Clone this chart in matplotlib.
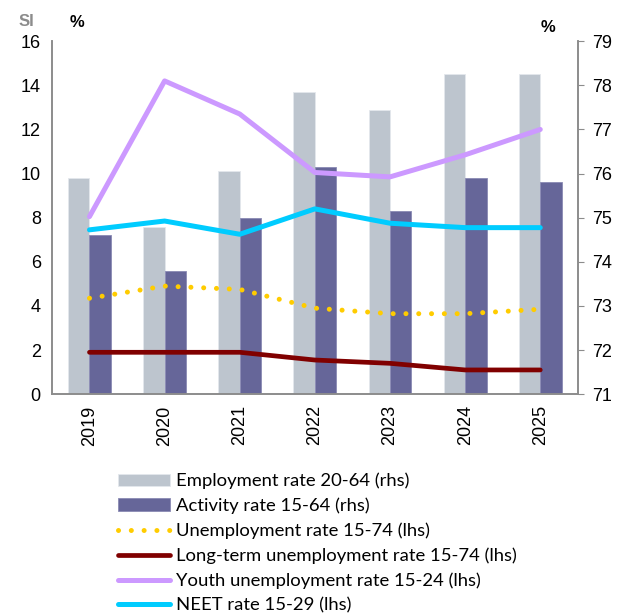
import numpy as np
import matplotlib.pyplot as plt

years = ["2019", "2020", "2021", "2022", "2023", "2024", "2025"]

# rhs series (bars)
employment_20_64 = [75.9, 74.8, 76.05, 77.85, 77.45, 78.25, 78.25]
activity_15_64 = [74.6, 73.8, 75.0, 76.15, 75.15, 75.9, 75.8]

# lhs series (lines)
unemployment_15_74 = [4.35, 4.9, 4.75, 3.9, 3.65, 3.65, 3.85]
long_term_15_74 = [1.9, 1.9, 1.9, 1.55, 1.4, 1.1, 1.1]
youth_15_24 = [8.05, 14.2, 12.7, 10.05, 9.85, 10.85, 12.0]
neet_15_29 = [7.45, 7.85, 7.25, 8.4, 7.75, 7.55, 7.55]

labels = ["Employment rate 20-64 (rhs)", "Activity rate 15-64 (rhs)",
          "Unemployment rate 15-74 (lhs)", "Long-term unemployment rate 15-74 (lhs)",
          "Youth unemployment rate 15-24 (lhs)", "NEET rate 15-29 (lhs)"]

plt.rcParams['font.family'] = ['Liberation Sans', 'DejaVu Sans']

fig = plt.figure(figsize=(6.18, 6.15), dpi=100)
ax = fig.add_axes([0.084, 0.359, 0.851, 0.574])
ax2 = ax.twinx()

x = np.arange(len(years))
w = 0.285
b1 = ax2.bar(x - w / 2, employment_20_64, w, color="#BDC5CE", edgecolor="#E4E8EC", linewidth=0.6)
b2 = ax2.bar(x + w / 2, activity_15_64, w, color="#666699", edgecolor="#8A8AB4", linewidth=0.6)
ax2.set_ylim(71, 79)

l1, = ax.plot(x, unemployment_15_74, color="#FFCC00", lw=3.6, linestyle=(0, (0.01, 2.55)),
              dash_capstyle="round")
l2, = ax.plot(x, long_term_15_74, color="#800000", lw=3.4, solid_capstyle="round")
l3, = ax.plot(x, youth_15_24, color="#CC99FF", lw=3.6, solid_capstyle="round")
l4, = ax.plot(x, neet_15_29, color="#00CCFF", lw=3.6, solid_capstyle="round")

ax.set_zorder(ax2.get_zorder() + 1)
ax.patch.set_visible(False)
ax.set_ylim(0, 16)
ax.set_xlim(-0.5, 6.5)
ax.set_yticks(range(0, 17, 2))
ax.set_xticks(x)
ax.set_xticklabels(years, rotation=90)
ax2.set_yticks(range(71, 80))

for a in (ax, ax2):
    a.spines["top"].set_visible(False)
    for s in ("left", "right", "bottom"):
        a.spines[s].set_color("#8C8C8C")
        a.spines[s].set_linewidth(1.2)
ax.tick_params(axis="y", length=0, labelsize=13, pad=8)
ax.tick_params(axis="x", length=0, labelsize=13, pad=8)
ax2.tick_params(axis="y", length=4, color="#8C8C8C", labelsize=13, pad=6)

fig.text(0.03, 0.965, "SI", fontsize=12, fontweight="bold", color="#8C8C8C", ha="left", va="center")
fig.text(0.113, 0.963, "%", fontsize=12, fontweight="bold", ha="left", va="center")
fig.text(0.875, 0.955, "%", fontsize=12, fontweight="bold", ha="left", va="center")

fig.legend([b1, b2, l1, l2, l3, l4], labels, loc="upper left", bbox_to_anchor=(0.191, 0.231),
           frameon=False, handlelength=2.8, handletextpad=0.33,
           labelspacing=0.45, borderpad=0, borderaxespad=0,
           prop={'family': ['Lato', 'DejaVu Sans'], 'size': 13.3})

fig.savefig("out.png", dpi=100)
